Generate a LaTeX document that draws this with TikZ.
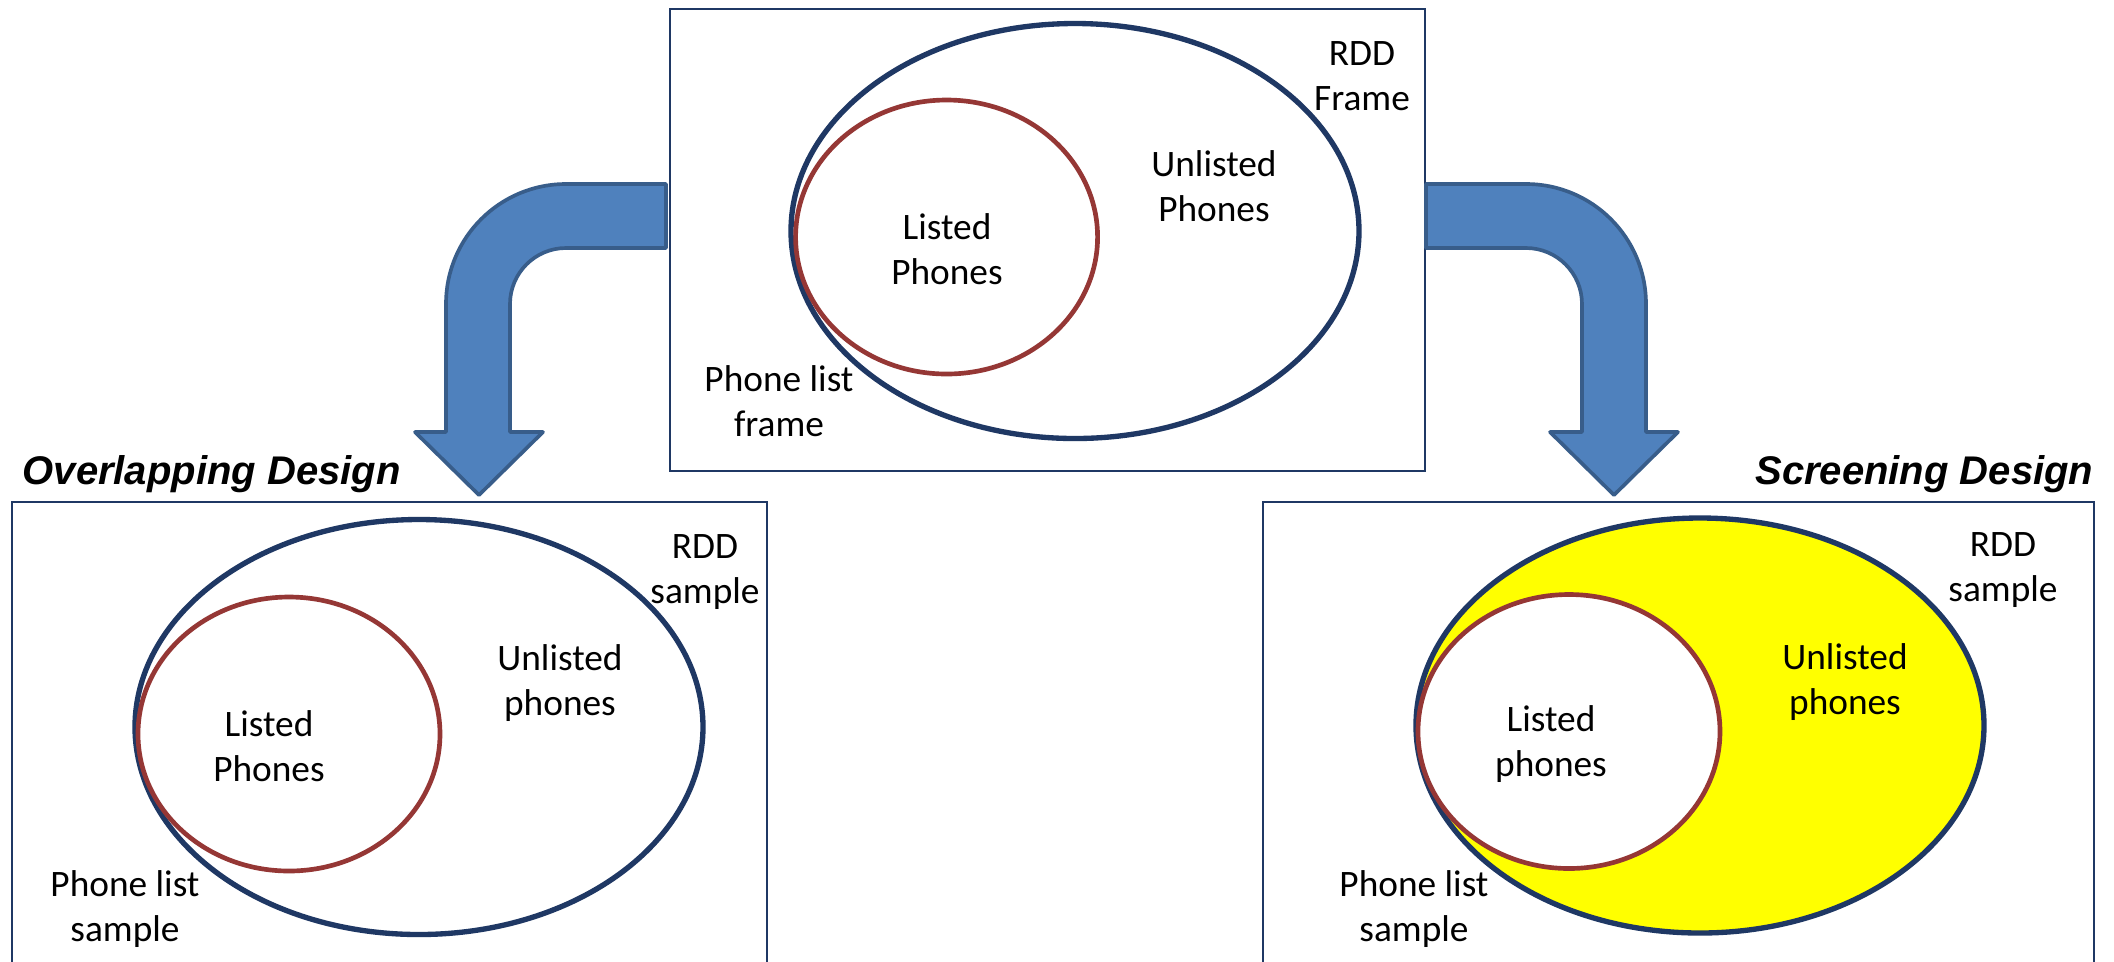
\documentclass[tikz,border=0pt]{standalone}
\usepackage{fontspec}
\setmainfont{Carlito}
\newfontfamily\titlefont{Liberation Sans}
\usetikzlibrary{shapes.geometric}
\definecolor{navy}{RGB}{31,56,100}
\definecolor{redc}{RGB}{149,55,53}
\definecolor{arrowfill}{RGB}{79,129,189}
\definecolor{arrowline}{RGB}{56,93,138}
\definecolor{yellowc}{RGB}{255,255,0}
\tikzset{
  panel/.style={draw=navy, line width=0.6pt, rectangle, inner sep=0pt},
  outerell/.style={ellipse, draw=navy, line width=1.6pt, inner sep=0pt, minimum width=170.4pt, minimum height=124.5pt},
  innerell/.style={ellipse, draw=redc, line width=1.4pt, inner sep=0pt, minimum width=90.6pt, minimum height=82.2pt},
  lbl/.style={align=center, font=\fontsize{11.2}{13.4}\selectfont, inner sep=0pt},
  title/.style={font=\titlefont\fontsize{12}{14}\selectfont\bfseries\itshape, inner sep=0pt},
  bigarrow/.style={fill=arrowfill, draw=arrowline, line width=1.1pt, line join=round}
}
\begin{document}
\begin{tikzpicture}[x=0.3pt, y=-0.3pt]
\useasboundingbox (0,0) rectangle (2114,961);
\clip (0,0) rectangle (2114,961);
\fill[white] (0,0) rectangle (2114,961);

% top panel
\node[panel, minimum width=226.5pt, minimum height=138.6pt] (top) at (1047.5,240) {};
\node[outerell] (topE) at (1075,231) {};
\node[innerell] (topC) at (946.6,237) {};
\node[lbl] (topL) at (947,249) {Listed\\Phones};
\node[lbl] (topU) at (1214,186) {Unlisted\\Phones};
\node[lbl] (topR) at (1362,76) {RDD\\Frame};
\node[lbl] (topP) at (779,401) {Phone list\\frame};

% bottom-left panel
\node[panel, minimum width=226.6pt, minimum height=143.3pt] (left) at (389.2,741.3) {};
\node[outerell] (leftE) at (419,727) {};
\node[innerell] (leftC) at (289,734) {};
\node[lbl] (leftL) at (269,746) {Listed\\Phones};
\node[lbl] (leftU) at (560,683) {Unlisted\\phones};
\node[lbl] (leftR) at (705,572) {RDD\\sample};
\node[lbl] (leftP) at (125,909) {Phone list\\sample};
\node[title, anchor=west] (leftT) at (22,474) {Overlapping Design};

% bottom-right panel
\node[panel, minimum width=249.3pt, minimum height=143.3pt] (right) at (1678.5,741.3) {};
\node[outerell, fill=yellowc] (rightE) at (1700,725.5) {};
\node[innerell, fill=white] (rightC) at (1569,731.5) {};
\node[lbl] (rightL) at (1551,744) {Listed\\phones};
\node[lbl] (rightU) at (1845,682) {Unlisted\\phones};
\node[lbl] (rightR) at (2003,570) {RDD\\sample};
\node[lbl] (rightP) at (1414,909) {Phone list\\sample};
\node[title, anchor=east] (rightT) at (2094,474) {Screening Design};

% left bent arrow
\draw[bigarrow] (666,184) -- (566,184)
  .. controls (499.7,184) and (446,237.7) .. (446,304)
  -- (446,432) -- (415,432) -- (479,495) -- (543,432) -- (510,432) -- (510,304)
  .. controls (510,273.1) and (535.1,248) .. (566,248)
  -- (666,248) -- cycle;

% right bent arrow
\draw[bigarrow] (1426,184) -- (1526,184)
  .. controls (1592.3,184) and (1646,237.7) .. (1646,304)
  -- (1646,432) -- (1678,432) -- (1614,495) -- (1550,432) -- (1582,432) -- (1582,304)
  .. controls (1582,273.1) and (1556.9,248) .. (1526,248)
  -- (1426,248) -- cycle;
\end{tikzpicture}
\end{document}
